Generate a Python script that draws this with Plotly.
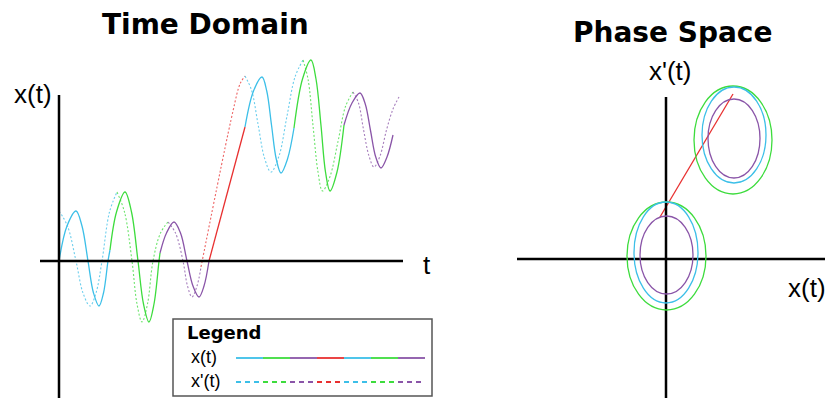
import plotly.graph_objects as go

# ---------------- data (diagram units) ----------------
CYAN, GREEN, PURPLE, RED = "#3cbfe8", "#3ddc3d", "#8a55a8", "#e83030"
segment_colors = [CYAN, GREEN, PURPLE, RED, CYAN, GREEN, PURPLE]

# time domain, solid x(t): one list per coloured segment
sol_t = [
    [0, 8, 17, 23, 29, 34.5, 40, 44.5, 49, 51],
    [51, 57.5, 66, 72.5, 79, 84.5, 90, 95, 100, 101],
    [101, 107.5, 115, 121.5, 128, 134, 140, 145, 150],
    [150, 186],
    [186, 194.5, 203, 207.75, 212.5, 217.25, 222, 228.5, 235],
    [235, 243.5, 252, 257, 262, 266.5, 271, 278, 285],
    [285, 293, 301, 306.25, 311.5, 316.75, 322, 328, 334],
]
sol_x = [
    [0, 35, 50, 35, 0, -32, -45, -32, 0, 11],
    [11, 49, 69, 49, 0, -43, -61, -43, 0, 8],
    [8, 28, 39, 28, 0, -25, -36, -25, 0],
    [0, 134],
    [134, 170, 184, 170, 136, 102, 88, 102, 133],
    [133, 182, 201, 182, 135.5, 89, 70, 89, 136],
    [136, 158, 168, 157, 130.5, 104, 93, 104, 126],
]
# time domain, dotted x'(t)
dot_t = [
    [0, 8.5, 17, 24, 31, 37, 43, 50.5, 58],
    [58, 65.5, 73, 78, 83, 88.5, 94, 101.5, 109],
    [109, 116.5, 124, 128.5, 133, 138, 142],
    [142, 174, 181, 186],
    [186, 192.5, 199, 205.5, 212, 220, 228, 236, 244],
    [244, 249, 254, 259, 263.5, 271, 279, 286.5, 294],
    [294, 299.5, 304.5, 310, 315, 321, 327.5, 334, 340],
]
dot_x = [
    [50, 35, 0, -32, -45, -32, 0, 49, 69],
    [69, 49, 0, -43, -61, -43, 0, 28, 39],
    [39, 28, 0, -25, -36, -25, -6],
    [-6, 150, 177, 185],
    [185, 171, 137, 103, 89, 105, 145, 184, 201],
    [201, 182, 135.5, 89, 70, 84.5, 119.5, 154.5, 169],
    [169, 158, 131.5, 105, 94, 105, 131, 152, 164],
]

# phase space orbits (ellipses): centre and semi-axes
orbit_colors = [GREEN, CYAN, PURPLE]
low_cx = [0.5, 0, 0.5]
low_cy = [3, 6.5, 4]
low_rx = [39.5, 32, 26.5]
low_ry = [54, 50.5, 39]
up_cx = [67, 68, 68]
up_cy = [119, 124, 120.5]
up_rx = [39, 32, 26]
up_ry = [54, 48, 39.5]
jump_X = [-6, 67]
jump_Y = [42, 165]

# ---------------- figure ----------------
W, H = 830, 398
def fx(p):
    return p / W
def fy(p):
    return 1 - p / H

fig = go.Figure()

for c, t, x in zip(segment_colors, dot_t, dot_x):
    fig.add_trace(go.Scatter(x=t, y=x, mode="lines", xaxis="x", yaxis="y",
                             line=dict(color=c, width=1.1, shape="spline", dash="2px,2px"),
                             opacity=0.75, hoverinfo="skip", showlegend=False))
for c, t, x in zip(segment_colors, sol_t, sol_x):
    fig.add_trace(go.Scatter(x=t, y=x, mode="lines", xaxis="x", yaxis="y",
                             line=dict(color=c, width=1.3, shape="spline"),
                             hoverinfo="skip", showlegend=False))

fig.add_trace(go.Scatter(x=jump_X, y=jump_Y, mode="lines", xaxis="x2", yaxis="y2",
                         line=dict(color=RED, width=1.3), hoverinfo="skip", showlegend=False))

shapes = []
# axes lines
ax_style = dict(color="black", width=2.5)
shapes.append(dict(type="line", xref="x", yref="y", x0=-19, x1=344, y0=0, y1=0, line=ax_style))
shapes.append(dict(type="line", xref="x", yref="y", x0=0, x1=0, y0=-140, y1=166, line=ax_style))
shapes.append(dict(type="line", xref="x2", yref="y2", x0=-149, x1=159, y0=0, y1=0, line=ax_style))
shapes.append(dict(type="line", xref="x2", yref="y2", x0=0, x1=0, y0=-142, y1=162, line=ax_style))

for cxs, cys, rxs, rys in [(low_cx, low_cy, low_rx, low_ry), (up_cx, up_cy, up_rx, up_ry)]:
    for c, cx, cy, rx, ry in zip(orbit_colors, cxs, cys, rxs, rys):
        shapes.append(dict(type="circle", xref="x2", yref="y2",
                           x0=cx - rx, x1=cx + rx, y0=cy - ry, y1=cy + ry,
                           line=dict(color=c, width=1.3)))

# legend box
shapes.append(dict(type="rect", xref="paper", yref="paper",
                   x0=fx(173), x1=fx(432), y0=fy(396), y1=fy(319),
                   line=dict(color="#555555", width=1.5), fillcolor="white", layer="above"))
seg_w = 27
for i, c in enumerate(segment_colors):
    x0 = 236 + seg_w * i
    shapes.append(dict(type="line", xref="paper", yref="paper", x0=fx(x0), x1=fx(x0 + seg_w),
                       y0=fy(358), y1=fy(358), line=dict(color=c, width=1.8), layer="above"))
    shapes.append(dict(type="line", xref="paper", yref="paper", x0=fx(x0), x1=fx(x0 + seg_w),
                       y0=fy(382), y1=fy(382), line=dict(color=c, width=1.8, dash="5px,4px"),
                       layer="above"))

ann = []
def text(s, x, y, size, family="Liberation Sans", xanchor="center", bold=False):
    ann.append(dict(text=("<b>%s</b>" % s) if bold else s, x=fx(x), y=fy(y), xref="paper", yref="paper",
                    xanchor=xanchor, yanchor="middle", showarrow=False,
                    font=dict(family=family, size=size, color="black")))

text("Time Domain", 205, 25, 28, family="DejaVu Sans", bold=True)
text("Phase Space", 672, 33, 28, family="DejaVu Sans", bold=True)
text("x(t)", 33, 94, 26)
text("t", 427, 265, 26)
text("x'(t)", 670, 71, 26)
text("x(t)", 807, 288, 26)
text("Legend", 185, 332, 18, family="DejaVu Sans", xanchor="left", bold=True)
text("x(t)", 189, 357, 18, xanchor="left")
text("x'(t)", 189, 381, 18, xanchor="left")

fig.update_layout(
    width=W, height=H, margin=dict(l=0, r=0, t=0, b=0),
    paper_bgcolor="white", plot_bgcolor="white",
    xaxis=dict(domain=[0, 0.5], range=[-59, 356], visible=False, fixedrange=True),
    yaxis=dict(domain=[0, 1], range=[-137, 261], visible=False, fixedrange=True),
    xaxis2=dict(domain=[0.5, 1], range=[-251, 164], visible=False, fixedrange=True),
    yaxis2=dict(domain=[0, 1], range=[-139, 259], visible=False, fixedrange=True, anchor="x2"),
    shapes=shapes, annotations=ann,
)
fig.write_html("out.html")
